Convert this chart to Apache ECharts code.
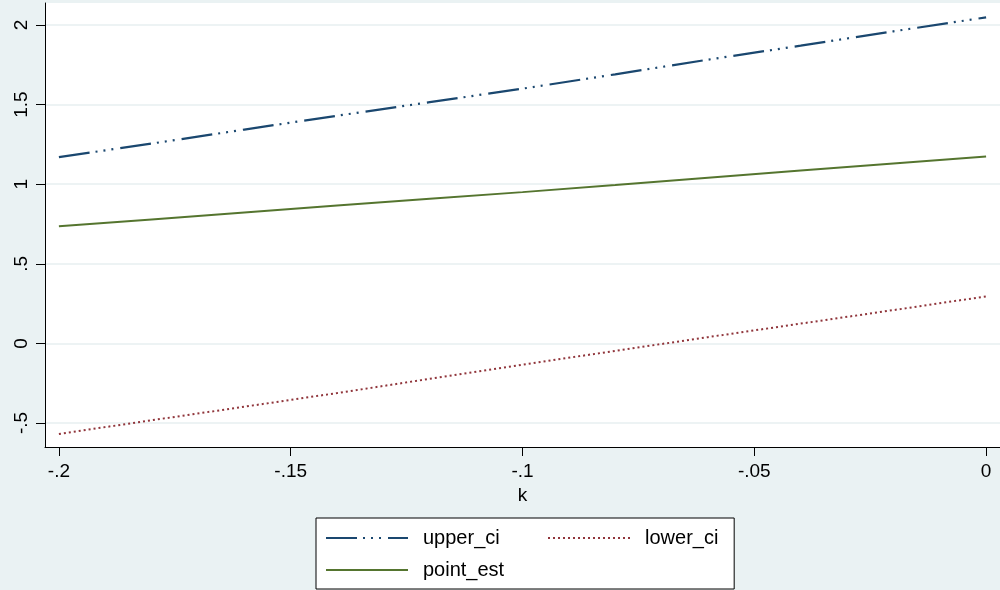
<!DOCTYPE html>
<html>
<head>
<meta charset="utf-8">
<script src="https://cdn.jsdelivr.net/npm/echarts@6/dist/echarts.min.js"></script>
<style>
html,body{margin:0;padding:0;background:#eaf2f3;}
#c{width:1000px;height:590px;}
</style>
</head>
<body>
<div id="c"></div>
<script>
var kValues = [-0.20, -0.18, -0.16, -0.14, -0.12, -0.10, -0.08, -0.06, -0.04, -0.02, 0.00];
var upperCi = [1.170, 1.255, 1.343, 1.430, 1.515, 1.600, 1.690, 1.782, 1.870, 1.960, 2.048];
var lowerCi = [-0.569, -0.483, -0.398, -0.312, -0.223, -0.134, -0.047, 0.039, 0.124, 0.209, 0.295];
var pointEst = [0.735, 0.778, 0.822, 0.866, 0.908, 0.950, 0.995, 1.041, 1.086, 1.130, 1.174];
var xTicks = [-0.2, -0.15, -0.1, -0.05, 0];
var xTickLabels = ['-.2', '-.15', '-.1', '-.05', '0'];
var yTicks = [-0.5, 0, 0.5, 1, 1.5, 2];
var yTickLabels = ['-.5', '0', '.5', '1', '1.5', '2'];

function pairs(ys) { return kValues.map(function (k, i) { return [k, ys[i]]; }); }
function fmt(ticks, labels) {
  return function (v) {
    for (var i = 0; i < ticks.length; i++) if (Math.abs(ticks[i] - v) < 1e-9) return labels[i];
    return '';
  };
}

var chart = echarts.init(document.getElementById('c'));
var font = 'Liberation Sans, Arial, sans-serif';
var legendText = { color: '#000', fontSize: 20, fontFamily: font, padding: [0, 0, 0, 10] };
chart.setOption({
  backgroundColor: '#eaf2f3',
  animation: false,
  grid: {
    left: 45, right: -6, top: 3, bottom: 143,
    show: true, backgroundColor: '#ffffff', borderWidth: 0
  },
  xAxis: {
    type: 'value', min: -0.203, max: 0.003,
    name: 'k', nameLocation: 'middle', nameGap: 33,
    nameTextStyle: { color: '#000', fontSize: 19, fontFamily: font },
    axisLine: { onZero: false, lineStyle: { color: '#000', width: 1 } },
    axisTick: { show: true, length: 9, customValues: xTicks, lineStyle: { color: '#000', width: 1 } },
    axisLabel: { customValues: xTicks, formatter: fmt(xTicks, xTickLabels), color: '#000',
      fontSize: 19, fontFamily: font, margin: 15 },
    splitLine: { show: false }
  },
  yAxis: {
    type: 'value', min: -0.651, max: 2.138,
    axisLine: { show: true, onZero: false, lineStyle: { color: '#000', width: 1 } },
    axisTick: { show: true, length: 9, customValues: yTicks, lineStyle: { color: '#000', width: 1 } },
    axisLabel: { customValues: yTicks, formatter: fmt(yTicks, yTickLabels), color: '#000',
      fontSize: 19, fontFamily: font, rotate: 90, margin: 14 },
    splitLine: { show: true, lineStyle: { color: '#e7eff1', width: 1.5 } }
  },
  legend: [{
    left: 316, top: 518, z: 2,
    orient: 'vertical',
    backgroundColor: '#ffffff', borderColor: '#000', borderWidth: 1,
    padding: [10, 230, 9, 9],
    itemWidth: 82, itemHeight: 20, itemGap: 12,
    itemStyle: { opacity: 0 },
    textStyle: legendText,
    data: ['upper_ci', 'point_est']
  }, {
    left: 547, top: 528, z: 3,
    orient: 'vertical', padding: 0,
    itemWidth: 82, itemHeight: 20,
    itemStyle: { opacity: 0 },
    textStyle: legendText,
    data: ['lower_ci']
  }],
  series: [
    { name: 'upper_ci', type: 'line', data: pairs(upperCi), showSymbol: false, symbol: 'none',
      lineStyle: { color: '#1a476f', width: 2.2, type: [31, 6, 2, 6, 2, 6, 2, 7] },
      itemStyle: { color: '#1a476f' } },
    { name: 'lower_ci', type: 'line', data: pairs(lowerCi), showSymbol: false, symbol: 'none',
      lineStyle: { color: '#90353b', width: 2, type: [2, 3] },
      itemStyle: { color: '#90353b' } },
    { name: 'point_est', type: 'line', data: pairs(pointEst), showSymbol: false, symbol: 'none',
      lineStyle: { color: '#55752f', width: 2 },
      itemStyle: { color: '#55752f' } }
  ]
});
</script>
</body>
</html>
